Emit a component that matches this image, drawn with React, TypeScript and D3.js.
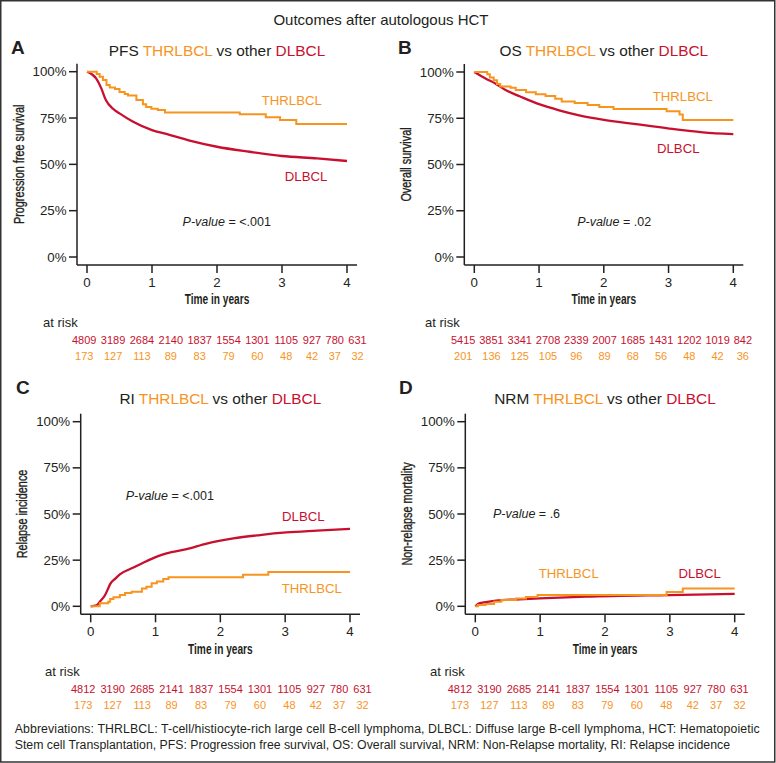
import React from 'react';
import * as d3 from 'd3';

// ---------- data ----------
const xTicks = [0, 1, 2, 3, 4];
const yTicks = [0, 25, 50, 75, 100];

// Progression free survival (%), [years, value]
const pfsDlbcl = [[0,100],[0.08,98.5],[0.14,96.4],[0.22,91],[0.29,84.7],[0.4,80],[0.5,77.5],[0.71,73],[1,68.5],[1.22,66.4],[1.58,62.8],[2,59.5],[2.5,56.8],[3,54.5],[3.54,53.2],[4,51.8]];
const pfsThr = [[0,100],[0.15,98.7],[0.195,97.3],[0.245,95.5],[0.3,92.8],[0.35,91.5],[0.43,90.6],[0.5,89],[0.58,88],[0.63,87.2],[0.76,84.7],[0.86,82.5],[0.91,81],[0.99,80],[1.09,79.3],[1.2,78],[2.35,77],[2.75,75.4],[2.97,74],[3.22,71.8],[4,71.8]];

// Overall survival (%)
const osDlbcl = [[0,100],[0.18,96.4],[0.33,93.7],[0.49,90.1],[0.7,86.9],[1,82.6],[1.31,79.3],[1.62,76.6],[1.98,74.3],[2.5,71.8],[3.01,69.4],[3.53,67.4],[4,66.4]];
const osThr = [[0,100],[0.2,98.8],[0.24,97],[0.3,95.5],[0.35,93.5],[0.4,92.2],[0.56,91.5],[0.64,90.3],[0.8,89],[0.95,88],[1.1,87],[1.25,85.5],[1.35,84],[1.55,83.2],[1.75,82.2],[1.93,81.1],[2.15,80],[2.97,78.8],[3.17,77],[3.22,74],[4,74]];

// Relapse incidence (%)
const riDlbcl = [[0,0],[0.09,0.5],[0.14,2.5],[0.22,6],[0.27,9.7],[0.3,12],[0.38,15],[0.45,17.3],[0.66,21],[0.81,23.6],[1.02,26.9],[1.17,28.7],[1.48,31],[1.79,34],[2.2,36.8],[2.61,38.6],[3.02,40],[3.49,41],[4,42]];
const riThr = [[0,0],[0.14,1.6],[0.27,2.5],[0.3,4],[0.35,4.9],[0.45,6.1],[0.53,7.2],[0.63,7.9],[0.79,9.7],[0.86,10.6],[0.94,12.5],[1.02,13.4],[1.12,14.8],[1.2,15.7],[2.35,17.1],[2.74,18.6],[4,18.6]];

// Non-relapse mortality (%)
const nrmDlbcl = [[0,0],[0.06,1.6],[0.16,2.3],[0.32,3.1],[0.68,3.8],[0.99,4.3],[1.71,5.2],[2.99,6.1],[4,6.7]];
const nrmThr = [[0,0],[0.04,0.7],[0.16,1.3],[0.29,2.5],[0.4,3.4],[0.63,4.2],[0.78,5],[0.96,6.1],[2.95,7.8],[3.2,9.6],[4,9.6]];

// Numbers at risk
const riskPfsDlbcl = [4809, 3189, 2684, 2140, 1837, 1554, 1301, 1105, 927, 780, 631];
const riskPfsThr = [173, 127, 113, 89, 83, 79, 60, 48, 42, 37, 32];
const riskOsDlbcl = [5415, 3851, 3341, 2708, 2339, 2007, 1685, 1431, 1202, 1019, 842];
const riskOsThr = [201, 136, 125, 105, 96, 89, 68, 56, 48, 42, 36];
const riskRiDlbcl = [4812, 3190, 2685, 2141, 1837, 1554, 1301, 1105, 927, 780, 631];
const riskRiThr = [173, 127, 113, 89, 83, 79, 60, 48, 42, 37, 32];
const riskNrmDlbcl = [4812, 3190, 2685, 2141, 1837, 1554, 1301, 1105, 927, 780, 631];
const riskNrmThr = [173, 127, 113, 89, 83, 79, 60, 48, 42, 37, 32];

const panelLetters = ['A', 'B', 'C', 'D'];
const panelPrefixes = ['PFS', 'OS', 'RI', 'NRM'];
const yLabels = ['Progression free survival', 'Overall survival', 'Relapse incidence', 'Non-relapse mortality'];
const pValues = ['<.001', '.02', '<.001', '.6'];
// label anchors in data coordinates [years, %]
const thrLabelPos = [[3.15, 82], [3.22, 84.3], [3.41, 7.2], [1.44, 15.6]];
const dlbclLabelPos = [[3.37, 41], [3.15, 56.2], [3.28, 46.2], [3.46, 15.6]];
const pLabelPos = [[2.15, 16.7], [2.16, 16.8], [1.22, 57.6], [0.79, 47.9]];

const mainTitle = 'Outcomes after autologous HCT';
const footer1 = 'Abbreviations: THRLBCL: T-cell/histiocyte-rich large cell B-cell lymphoma, DLBCL: Diffuse large B-cell lymphoma, HCT: Hematopoietic';
const footer2 = 'Stem cell Transplantation, PFS: Progression free survival, OS: Overall survival, NRM: Non-Relapse mortality, RI: Relapse incidence';

// ---------- style ----------
const ORANGE = '#F7941E';
const RED = '#C8102E';
const INK = '#231F20';
const FONT = '"Liberation Sans", Arial, Helvetica, sans-serif';

const layouts = [
  { x0: 87, x1: 347, yTop: 71.7, yBot: 257, letterX: 11, letterY: 54, titleY: 56, xLabelY: 304, yLabelX: 24, riskX: 43, riskY: 327, rowR: 343.7, rowO: 359.7, tL: 72, tR: 366.7 },
  { x0: 474.3, x1: 733.3, yTop: 72, yBot: 257, letterX: 398, letterY: 54, titleY: 56, xLabelY: 304, yLabelX: 411, riskX: 425, riskY: 327, rowR: 343.7, rowO: 359.7, tL: 451, tR: 752 },
  { x0: 90.7, x1: 350, yTop: 421.7, yBot: 606.3, letterX: 16, letterY: 394.3, titleY: 404, xLabelY: 654, yLabelX: 27, riskX: 45, riskY: 676, rowR: 693.3, rowO: 709.3, tL: 71, tR: 371.7 },
  { x0: 475.3, x1: 734.7, yTop: 421.7, yBot: 606.3, letterX: 399, letterY: 394.3, titleY: 404, xLabelY: 654, yLabelX: 412, riskX: 430, riskY: 676, rowR: 693.3, rowO: 709.3, tL: 447.7, tR: 748.7 },
];

const series = [
  { dl: pfsDlbcl, th: pfsThr, rd: riskPfsDlbcl, ro: riskPfsThr },
  { dl: osDlbcl, th: osThr, rd: riskOsDlbcl, ro: riskOsThr },
  { dl: riDlbcl, th: riThr, rd: riskRiDlbcl, ro: riskRiThr },
  { dl: nrmDlbcl, th: nrmThr, rd: riskNrmDlbcl, ro: riskNrmThr },
];

const RISK_FS = 11;
const digitW = 0.556 * RISK_FS;

function Panel({ i }: { i: number }) {
  const L = layouts[i];
  const S = series[i];
  const x = d3.scaleLinear().domain([0, 4]).range([L.x0, L.x1]);
  const y = d3.scaleLinear().domain([0, 100]).range([L.yBot, L.yTop]);
  const axL = L.x0 - 10;
  const axB = L.yBot + 8;
  const smooth = d3.line<number[]>().x(d => x(d[0])).y(d => y(d[1])).curve(d3.curveMonotoneX);
  const step = d3.line<number[]>().x(d => x(d[0])).y(d => y(d[1])).curve(d3.curveStepAfter);

  // risk table layout: flow red numbers with equal gaps
  const widths = S.rd.map(v => String(v).length * digitW);
  const total = d3.sum(widths);
  const gap = (L.tR - L.tL - total) / (widths.length - 1);
  const centers: number[] = [];
  let cur = L.tL;
  widths.forEach(w => { centers.push(cur + w / 2); cur += w + gap; });

  const midX = (L.x0 + L.x1) / 2;
  const midY = (L.yTop + L.yBot) / 2;

  return (
    <g>
      <text x={L.letterX} y={L.letterY} fontSize={19} fontWeight="bold" fill={INK}>{panelLetters[i]}</text>
      <text x={midX} y={L.titleY} fontSize={15.4} textAnchor="middle" fill={INK}>
        <tspan>{panelPrefixes[i] + ' '}</tspan>
        <tspan fill={ORANGE}>THRLBCL</tspan>
        <tspan>{' vs other '}</tspan>
        <tspan fill={RED}>DLBCL</tspan>
      </text>
      {/* axes */}
      <line x1={axL} x2={axL} y1={L.yTop - 8} y2={axB} stroke={INK} strokeWidth={1.5} />
      <line x1={axL} x2={L.x1 + 10} y1={axB} y2={axB} stroke={INK} strokeWidth={1.5} />
      {yTicks.map(t => (
        <g key={'y' + t}>
          <line x1={axL - 8} x2={axL} y1={y(t)} y2={y(t)} stroke={INK} strokeWidth={1.5} />
          <text x={axL - 10.5} y={y(t) + 4.6} fontSize={13.3} textAnchor="end" fill={INK}>{t + '%'}</text>
        </g>
      ))}
      {xTicks.map(t => (
        <g key={'x' + t}>
          <line x1={x(t)} x2={x(t)} y1={axB} y2={axB + 8} stroke={INK} strokeWidth={1.5} />
          <text x={x(t)} y={axB + 21.5} fontSize={13.3} textAnchor="middle" fill={INK}>{t}</text>
        </g>
      ))}
      <text transform={`translate(${L.yLabelX},${midY}) rotate(-90) scale(0.75,1)`} fontSize={14.5} textAnchor="middle" fill={INK} stroke={INK} strokeWidth={0.35}>{yLabels[i]}</text>
      <text transform={`translate(${midX},${L.xLabelY}) scale(0.7,1)`} fontSize={14.5} fontWeight="bold" textAnchor="middle" fill={INK}>Time in years</text>
      {/* curves */}
      <path d={smooth(S.dl) || ''} fill="none" stroke={RED} strokeWidth={2.3} />
      <path d={step(S.th) || ''} fill="none" stroke={ORANGE} strokeWidth={2} />
      {/* labels */}
      <text x={x(thrLabelPos[i][0])} y={y(thrLabelPos[i][1])} fontSize={13.2} textAnchor="middle" fill={ORANGE}>THRLBCL</text>
      <text x={x(dlbclLabelPos[i][0])} y={y(dlbclLabelPos[i][1])} fontSize={13.2} textAnchor="middle" fill={RED}>DLBCL</text>
      <text x={x(pLabelPos[i][0])} y={y(pLabelPos[i][1])} fontSize={12.5} textAnchor="middle" fill={INK}>
        <tspan fontStyle="italic">P-value</tspan>
        <tspan>{' = ' + pValues[i]}</tspan>
      </text>
      {/* risk table */}
      <text x={L.riskX} y={L.riskY} fontSize={13} fill={INK}>at risk</text>
      {S.rd.map((v, k) => (
        <text key={'r' + k} x={centers[k]} y={L.rowR} fontSize={RISK_FS} textAnchor="middle" fill={RED}>{v}</text>
      ))}
      {S.ro.map((v, k) => (
        <text key={'o' + k} x={centers[k]} y={L.rowO} fontSize={RISK_FS} textAnchor="middle" fill={ORANGE}>{v}</text>
      ))}
    </g>
  );
}

export default function App() {
  return (
    <svg width={776} height={763} style={{ position: 'absolute', left: 0, top: 0, background: '#fff' }} fontFamily={FONT}>
      <rect x={0} y={0} width={776} height={763} fill="#fff" />
      <rect x={0.75} y={0.75} width={774} height={761.25} fill="none" stroke="#333" strokeWidth={1.5} />
      <text x={381} y={24.5} fontSize={15} textAnchor="middle" fill={INK}>{mainTitle}</text>
      {[0, 1, 2, 3].map(i => <Panel key={i} i={i} />)}
      <text x={14.7} y={733} fontSize={12.3} fill={INK} textLength={745} lengthAdjust="spacing">{footer1}</text>
      <text x={14.7} y={749} fontSize={12.3} fill={INK}>{footer2}</text>
    </svg>
  );
}
